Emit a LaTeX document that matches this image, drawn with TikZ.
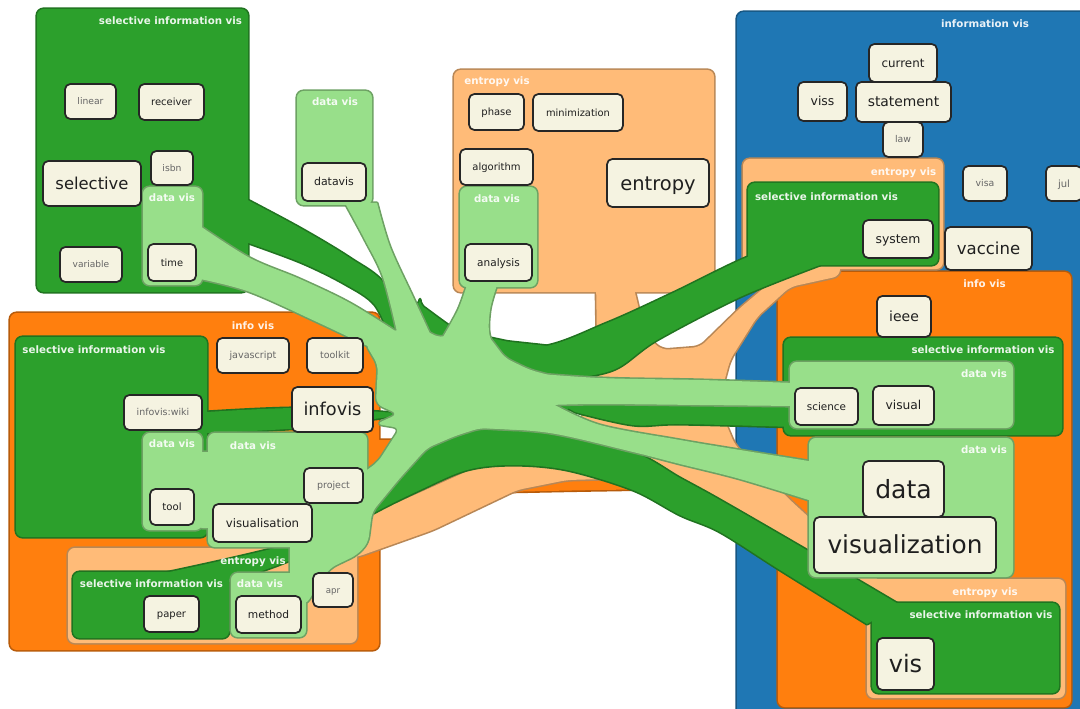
\documentclass[tikz,border=0pt]{standalone}
\usepackage{fontspec}
\setmainfont{DejaVu Sans}
\usetikzlibrary{fit}

\definecolor{infoblue}{HTML}{1F77B4}
\definecolor{infoorange}{HTML}{FF7F0E}
\definecolor{entropy}{HTML}{FFBB78}
\definecolor{selective}{HTML}{2CA02C}
\definecolor{datavis}{HTML}{98DF8A}
\definecolor{paper}{HTML}{F5F3E1}

% tapered band: one edge out, the other edge back
\newcommand\kelp[2]{[sharp corners] plot[smooth, tension=.55] coordinates {#1} -- plot[smooth, tension=.55] coordinates {#2} -- cycle}
% term text sits on a baseline just below the box centre
\newcommand\cw[1]{\raisebox{-.36em}[0pt][0pt]{#1}}

% each set is drawn twice (rim, then body) so that its pieces merge
\newcommand\infoblueset[1]{%
  \path[#1] (737,12) rectangle (1110,740);
}
\newcommand\infoset[1]{%
  \path[#1] (10,313) rectangle (379,650);
  \path[#1] (778,272) rectangle (1071,707);
  \path[#1] \kelp{(370,440) (500,440) (650,445) (790,458)}{(790,505) (720,490) (600,490) (370,495)};
}
\newcommand\entropyset[1]{%
  \path[#1] (454,70) rectangle (714,292);
  \path[#1] (743,159) rectangle (943,269);
  \path[#1] (867,579) rectangle (1065,698);
  \path[#1] (68,548) rectangle (357,643);
  \path[#1] (596,280) -- (632,280) -- (645,335) -- (662,350) -- (700,347) -- (740,308) -- (790,266) -- (840,262) -- (840,276) -- (790,287) -- (757,317) -- (730,360) -- (718,405) -- (735,445) -- (790,500) -- (850,555) -- (890,590) -- (885,615) -- (850,600) -- (800,560) -- (740,520) -- (690,490) -- (640,478) -- (567,480) -- (517,490) -- (433,530) -- (357,557) -- (330,560) -- (330,540) -- (370,515) -- (470,470) -- (560,440) -- (598,400) -- cycle;
}
\newcommand\selectset[1]{%
  \path[#1] (37,9) rectangle (248,292);
  \path[#1] (748,183) rectangle (938,265);
  \path[#1] (16,337) rectangle (207,537);
  \path[#1] (784,338) rectangle (1062,435);
  \path[#1] (73,572) rectangle (229,638);
  \path[#1] (872,603) rectangle (1059,693);
  \path[#1] plot[smooth cycle, tension=.35] coordinates {(392,298) (420,306) (455,328) (500,340) (560,350) (580,380) (560,415) (490,428) (440,440) (410,438) (395,410) (385,370)};
  \path[#1] \kelp{(240,196) (300,228) (350,258) (385,285) (400,335)}{(392,342) (375,305) (345,284) (300,262) (240,240)};
  \path[#1] \kelp{(470,338) (540,347) (607,323) (673,293) (750,256) (800,243)}{(820,265) (740,297) (657,340) (613,370) (560,378) (500,372)};
  \path[#1] \kelp{(557,402) (680,402) (795,404)}{(795,427) (680,424) (633,425) (575,412)};
  \path[#1] \kelp{(160,574) (300,541) (370,505) (427,445) (480,426) (550,430) (633,452) (680,478) (720,500) (810,552) (900,605)}{(867,624) (780,570) (720,532) (680,515) (633,490) (567,470) (513,465) (467,470) (420,490) (370,515) (300,556) (229,582)};
  \path[#1] \kelp{(207,412) (300,408) (396,413)}{(396,416) (300,428) (207,433)};
}
\newcommand\dataset[1]{%
  \path[#1] (297,91) rectangle (372,205);
  \path[#1] (143,187) rectangle (202,285);
  \path[#1] (460,187) rectangle (537,287);
  \path[#1] (143,433) rectangle (202,530);
  \path[#1] (208,433) rectangle (367,547);
  \path[#1] (196,452) rectangle (214,528);
  \path[#1] (231,573) rectangle (306,637);
  \path[#1] (790,362) rectangle (1013,428);
  \path[#1] (809,438) rectangle (1013,577);
  \path[#1] \kelp{(200,226) (250,258) (300,279) (350,303) (400,334)}{(380,352) (317,322) (250,292) (200,279)};
  \path[#1] \kelp{(345,203) (365,240) (383,277) (397,332)}{(432,338) (413,297) (390,247) (377,203)};
  \path[#1] \kelp{(467,285) (458,310) (443,337)}{(505,360) (490,337) (490,310) (497,285)};
  \path[#1] \kelp{(515,372) (600,378) (700,380) (795,383)}{(795,406) (700,405) (600,404) (550,405)};
  \path[#1] \kelp{(553,404) (600,425) (680,440) (740,450) (815,462)}{(815,502) (740,479) (680,464) (633,452) (550,433) (480,428)};
  \path[#1] (365,343) -- (395,330) -- (420,328) -- (440,338) -- (455,333) -- (467,318) -- (490,338) -- (505,358) -- (530,370) -- (560,378) -- (555,404) -- (545,420) -- (520,430) -- (480,428) -- (455,436) -- (427,448) -- (400,478) -- (372,512) -- (368,543) -- (357,555) -- (330,568) -- (313,593) -- (306,605) -- (290,600) -- (290,500) -- (360,475) -- (378,462) -- (400,428) -- (376,424) -- (398,414) -- (376,404) -- (378,365) -- cycle;
}

\begin{document}
\begin{tikzpicture}[
    x=0.75pt, y=-0.75pt,
    rim/.style={draw=#1!72!black, line width=2.4pt, line join=round, rounded corners=5pt},
    body/.style={fill=#1, rounded corners=5pt},
    term/.style={draw=black!85, fill=paper, line width=1.3pt, rounded corners=4pt, inner sep=0pt, text=black!88},
    dim/.style={text=black!60},
    sz/.style={font=\fontsize{#1}{#1}\selectfont},
    tag/.style={font=\bfseries\fontsize{7.7}{8}\selectfont, text=white, text opacity=.9, inner sep=0pt, anchor=base}
]
    \useasboundingbox (0,0) rectangle (1080,709);
    \fill[white] (0,0) rectangle (1080,709);
    \clip (0,0) rectangle (1080,709);

    \infoblueset{rim=infoblue} \infoblueset{body=infoblue}
    \infoset{rim=infoorange} \infoset{body=infoorange}
    \entropyset{rim=entropy} \entropyset{body=entropy}
    \selectset{rim=selective} \selectset{body=selective}
    \dataset{rim=datavis} \dataset{body=datavis}

    % set names
    \node[tag] (t_sel1) at (170.5,25) {selective information vis};
    \node[tag] (t_dv1) at (335,106) {data vis};
    \node[tag] (t_dv2) at (172,202) {data vis};
    \node[tag] (t_ent1) at (497,85) {entropy vis};
    \node[tag] (t_dv3) at (497,203) {data vis};
    \node[tag] (t_info1) at (985,28) {information vis};
    \node[tag] (t_ent2) at (903.5,176) {entropy vis};
    \node[tag] (t_sel2) at (826.5,200) {selective information vis};
    \node[tag] (t_iv1) at (984.5,287) {info vis};
    \node[tag] (t_sel3) at (983,353) {selective information vis};
    \node[tag] (t_dv4) at (984,377) {data vis};
    \node[tag] (t_dv5) at (984,453) {data vis};
    \node[tag] (t_ent3) at (985,595) {entropy vis};
    \node[tag] (t_sel4) at (981,618) {selective information vis};
    \node[tag] (t_iv2) at (253,329) {info vis};
    \node[tag] (t_sel5) at (94,353) {selective information vis};
    \node[tag] (t_dv6) at (172,447) {data vis};
    \node[tag] (t_dv7) at (253,449) {data vis};
    \node[tag] (t_ent4) at (253,564) {entropy vis};
    \node[tag] (t_sel6) at (151.5,587) {selective information vis};
    \node[tag] (t_dv8) at (260,587) {data vis};

    % terms
    \node[term, sz=6.9, dim, fit={(65,84) (116,119)}] (linear) {\cw{linear}};
    \node[term, sz=7.5, fit={(139,84) (204,120)}] (receiver) {\cw{receiver}};
    \node[term, sz=12.3, fit={(43,161) (141,206)}] (selective) {\cw{selective}};
    \node[term, sz=6.9, dim, fit={(151,151) (193,185)}] (isbn) {\cw{isbn}};
    \node[term, sz=6.8, dim, fit={(60,247) (122,282)}] (variable) {\cw{variable}};
    \node[term, sz=7.4, fit={(148,244) (196,281)}] (time) {\cw{time}};
    \node[term, sz=8.2, fit={(302,163) (366,201)}] (datavis) {\cw{datavis}};
    \node[term, sz=7.5, fit={(469,94) (524,130)}] (phase) {\cw{phase}};
    \node[term, sz=7.4, fit={(533,94) (623,131)}] (minim) {\cw{minimization}};
    \node[term, sz=7.5, fit={(460,149) (533,185)}] (algo) {\cw{algorithm}};
    \node[term, sz=14.6, fit={(607,159) (709,207)}] (entropy) {\cw{entropy}};
    \node[term, sz=7.9, fit={(465,244) (532,281)}] (analysis) {\cw{analysis}};
    \node[term, sz=8.9, fit={(869,44) (937,82)}] (current) {\cw{current}};
    \node[term, sz=9.3, fit={(798,82) (847,121)}] (viss) {\cw{viss}};
    \node[term, sz=10.4, fit={(856,82) (951,122)}] (statement) {\cw{statement}};
    \node[term, sz=7, dim, fit={(883,122) (923,157)}] (law) {\cw{law}};
    \node[term, sz=7, dim, fit={(963,166) (1007,201)}] (visa) {\cw{visa}};
    \node[term, sz=7.5, dim, fit={(1046,166) (1082,201)}] (jul) {\cw{jul}};
    \node[term, sz=12.4, fit={(945,227) (1032,270)}] (vaccine) {\cw{vaccine}};
    \node[term, sz=9.3, fit={(863,220) (933,258)}] (system) {\cw{system}};
    \node[term, sz=10.5, fit={(877,296) (931,337)}] (ieee) {\cw{ieee}};
    \node[term, sz=7.8, fit={(795,388) (858,425)}] (science) {\cw{science}};
    \node[term, sz=9.2, fit={(873,386) (934,425)}] (visual) {\cw{visual}};
    \node[term, sz=18.8, fit={(863,461) (944,517)}] (data) {\cw{data}};
    \node[term, sz=18.6, fit={(814,517) (996,573)}] (visz) {\cw{visualization}};
    \node[term, sz=18, fit={(877,638) (934,690)}] (vis) {\cw{vis}};
    \node[term, sz=7.2, dim, fit={(217,338) (289,373)}] (js) {\cw{javascript}};
    \node[term, sz=7.1, dim, fit={(307,338) (363,373)}] (toolkit) {\cw{toolkit}};
    \node[term, sz=13.3, fit={(292,387) (373,432)}] (infovis) {\cw{infovis}};
    \node[term, sz=7.1, dim, fit={(124,395) (202,430)}] (wiki) {\cw{infovis:wiki}};
    \node[term, sz=7.6, fit={(150,489) (194,525)}] (tool) {\cw{tool}};
    \node[term, sz=7.1, dim, fit={(304,468) (363,503)}] (project) {\cw{project}};
    \node[term, sz=8.8, fit={(213,504) (312,542)}] (viss_uk) {\cw{visualisation}};
    \node[term, sz=7.5, fit={(144,596) (199,632)}] (paper) {\cw{paper}};
    \node[term, sz=8, fit={(236,596) (301,633)}] (method) {\cw{method}};
    \node[term, sz=6.5, dim, fit={(313,573) (353,607)}] (apr) {\cw{apr}};
\end{tikzpicture}
\end{document}
